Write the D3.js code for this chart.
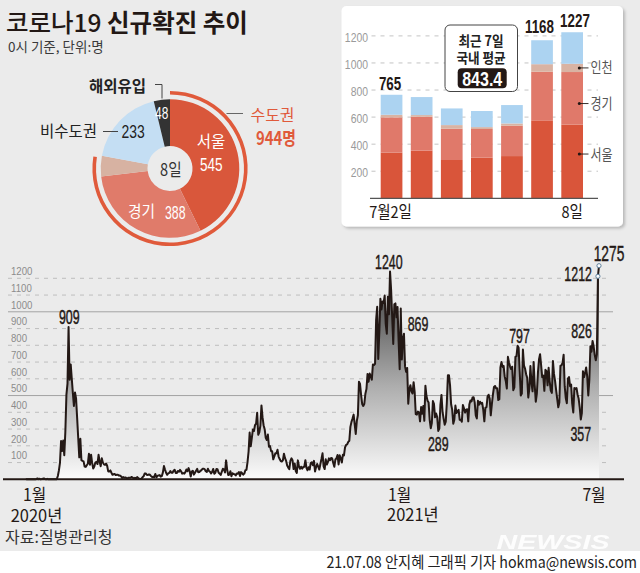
<!DOCTYPE html>
<html><head><meta charset="utf-8">
<script src="https://cdn.jsdelivr.net/npm/d3@7"></script>
<style>html,body{margin:0;padding:0;background:#fff}svg{display:block}</style>
</head><body>
<svg id="c" width="640" height="573"></svg>
<script>
// ---------------- DATA ----------------
// Daily new confirmed cases (total), from 2020-01-20 to 2021-07-08
const seriesStart = "2020-01-20";
const jan2020 = [1,0,0,0,1,0,1,1,0,0,2,5];
const feb2020 = [1,3,0,1,3,5,1,0,3,0,1,0,0,0,0,1,1,1,20,53,100,229,169,231,144,284,505,571,909];
const mar2020 = [595,686,600,516,438,518,483,367,248,131,242,114,110,107,76,74,84,93,152,87,147,98,64,76,100,104,91,146,105,78,125];
const apr2020 = [101,89,86,94,81,47,47,53,39,27,30,32,25,27,27,22,22,18,8,13,9,11,8,6,10,10,10,14,9,4];
const may2020 = [9,6,13,8,3,2,4,12,18,34,35,27,26,29,27,19,13,15,13,32,12,20,23,25,16,19,40,79,58,39,27];
const jun2020 = [35,38,49,39,39,51,57,38,38,50,45,56,48,34,37,34,43,59,49,67,48,17,46,51,28,39,51,62,42,43];
const jul2020 = [51,54,63,63,61,48,44,63,50,45,35,44,62,33,39,61,60,39,34,26,45,63,59,41,113,58,25,28,48,18,36];
const aug2020 = [31,30,23,34,33,43,20,43,36,28,34,54,56,103,166,279,197,246,297,288,324,332,397,266,280,320,441,371,323,299,248];
const sep2020 = [235,267,195,198,168,167,119,136,156,155,176,136,121,109,106,113,153,126,110,82,70,61,110,125,114,61,95,50,38,113];
const oct2020 = [77,63,75,64,73,75,114,69,54,72,58,97,102,84,110,47,73,91,76,58,91,121,155,77,61,119,88,103,125,114,127];
const nov2020 = [124,97,75,118,125,145,89,143,126,100,146,143,191,205,208,223,230,313,343,363,386,330,271,349,382,583,569,503,450,438];
const dec2020 = [451,511,540,629,583,631,615,594,686,682,689,950,1030,718,880,1078,1014,1062,1053,1097,926,869,1090,985,1240,1132,970,808,1045,1050,967];
const jan2021 = [1029,824,657,1020,715,840,869,674,641,665,451,537,562,524,513,580,520,389,386,404,400,346,431,392,437,349,559,497,469,458,355];
const feb2021 = [305,336,467,451,370,393,372,289,303,444,504,403,362,326,344,457,621,621,561,448,416,332,356,440,396,406,415,355];
const mar2021 = [355,344,444,424,398,416,418,346,446,470,465,488,490,459,382,363,469,445,463,452,456,415,346,428,430,494,505,482,382,447,506];
const apr2021 = [551,557,543,543,473,478,668,700,671,677,614,587,542,731,698,673,658,672,532,549,731,735,797,785,644,500,512,775,679,661];
const may2021 = [627,606,488,541,676,574,525,701,564,463,511,635,715,747,681,610,619,528,654,646,561,666,585,530,516,707,629,587,533,480,430];
const jun2021 = [459,677,681,695,744,556,485,454,602,611,556,565,452,399,545,540,545,507,482,429,357,395,645,610,634,668,614,501,595,794];
const jul2021 = [762,826,794,743,711,746,1212,1275];

const mainTicks = [100,200,300,400,500,600,700,800,900,1000,1100,1200];
const mainSolidTicks = [500,1000];
const annotDates = ["2020-02-29","2020-12-25","2021-01-07","2021-02-08","2021-04-23","2021-07-02","2021-06-21","2021-07-07","2021-07-08"];
const xMonthLabels = ["1월","1월","7월"];
const xYearLabels = ["2020년","2021년",""];
const xLabelDates = ["2020-01-01","2021-01-01","2021-07-01"];

// Pie: 8일 breakdown
const pieLabels = ["서울","경기","인천","비수도권","해외유입"];
const pieValues = [545,388,61,233,48];
const capitalLabel = "수도권";
const capitalText = "944명";

// Inset bars (domestic, 7/2 ~ 7/8)
const barDays = ["7월2일","3일","4일","5일","6일","7일","8일"];
const barSeoul    = [337,352,283,300,312,576,545];
const barGyeonggi = [261,251,231,212,224,359,388];
const barIncheon  = [19,12,27,14,17,56,61];
const barOther    = [148,133,123,119,136,177,233];
const barTotalsShown = ["765","","","","","1168","1227"];
const barTicks = [200,400,600,800,1000,1200];
const avgLines = ["최근 7일","국내 평균"];
const avgValue = "843.4";

// ---------------- DRAW ----------------
const svg = d3.select("#c");
const KR = "'Noto Sans CJK KR','Noto Sans',sans-serif";
const NUM = "'Liberation Sans',Arial,sans-serif";
const INK = "#231815";

function label(parent, x, y, str, o = {}) {
  const el = parent.append("text")
    .attr("transform", `translate(${x},${y}) scale(${o.sx || 1},1)`)
    .attr("text-anchor", o.anchor || "start")
    .attr("font-family", o.font || KR)
    .attr("font-size", o.size || 14)
    .attr("font-weight", o.weight || 400)
    .attr("font-style", o.style || "normal")
    .attr("fill", o.fill || INK)
    .text(str);
  if (o.stroke) el.attr("stroke", o.fill || INK).attr("stroke-width", o.stroke);
  return el;
}

const defs = svg.append("defs");
const grad = defs.append("linearGradient").attr("id", "areaGrad")
  .attr("gradientUnits", "userSpaceOnUse").attr("x1", 0).attr("x2", 0);
const sh = defs.append("filter").attr("id", "shadow").attr("x", "-10%").attr("y", "-10%").attr("width", "130%").attr("height", "130%");
sh.append("feDropShadow").attr("dx", 2).attr("dy", 2).attr("stdDeviation", 1.6)
  .attr("flood-color", "#000").attr("flood-opacity", 0.22);

// background
svg.append("rect").attr("width", 640).attr("height", 573).attr("fill", "#fff");
svg.append("rect").attr("width", 640).attr("height", 551).attr("fill", "#ebebeb");

// Title
const t = svg.append("text").attr("x", 6).attr("y", 31.5)
  .attr("font-family", KR).attr("font-size", 24.5).attr("fill", INK);
t.append("tspan").attr("font-weight", 500).text("코로나19 ");
t.append("tspan").attr("font-weight", 700).text("신규확진 추이");
label(svg, 8, 52, "0시 기준, 단위:명", { size: 13.5, fill: "#3a3a3a" });

// ---------- main area chart ----------
const parse = d3.utcParse("%Y-%m-%d");
const allCounts = [].concat(jan2020, feb2020, mar2020, apr2020, may2020, jun2020, jul2020, aug2020,
  sep2020, oct2020, nov2020, dec2020, jan2021, feb2021, mar2021, apr2021, may2021, jun2021, jul2021);
const start = parse(seriesStart);
const data = allCounts.map((v, i) => ({ date: d3.utcDay.offset(start, i), v }));

const x = d3.scaleUtc().domain([data[0].date, data[data.length - 1].date]).range([25.7, 599]);
const y = d3.scaleLinear().domain([0, 1200]).range([479.3, 278.3]);

grad.attr("y1", y(1240)).attr("y2", y(0));
grad.append("stop").attr("offset", 0).attr("stop-color", "#383838");
grad.append("stop").attr("offset", 0.55).attr("stop-color", "#adadad");
grad.append("stop").attr("offset", 1).attr("stop-color", "#fbfbfb");

const gMain = svg.append("g");
mainTicks.forEach(v => {
  const solid = mainSolidTicks.includes(v);
  gMain.append("line").attr("x1", 8).attr("x2", solid ? 613 : 610)
    .attr("y1", y(v)).attr("y2", y(v))
    .attr("stroke", solid ? "#a3a3a3" : "#b9b9b9")
    .attr("stroke-width", solid ? 1 : 0.9)
    .attr("stroke-dasharray", solid ? null : "4,5");
  label(gMain, 11, y(v) - 3.2, String(v), { font: NUM, size: 11.5, sx: 0.84, fill: "#8c8c8c" });
});

const area = d3.area().x(d => x(d.date)).y0(y(0)).y1(d => y(d.v)).curve(d3.curveLinear);
const line = d3.line().x(d => x(d.date)).y(d => y(d.v));
gMain.append("path").datum(data).attr("d", area).attr("fill", "url(#areaGrad)");
gMain.append("path").datum(data).attr("d", line).attr("fill", "none")
  .attr("stroke", INK).attr("stroke-width", 2).attr("stroke-linejoin", "round");

// baseline
gMain.append("line").attr("x1", 3).attr("x2", 624).attr("y1", y(0)).attr("y2", y(0))
  .attr("stroke", INK).attr("stroke-width", 2);

// end circles
data.slice(-2).forEach(d => {
  gMain.append("circle").attr("cx", x(d.date)).attr("cy", y(d.v)).attr("r", 2.1)
    .attr("fill", "#fff").attr("stroke", "#5d7f9c").attr("stroke-width", 1);
});

// annotations
const annotOffsets = [[0.7, -2.8], [-1.2, -2.4], [14, -3], [0, 20.5], [2, -3.3], [-11, -2.8], [0, 21.3], [-6, 4.5], [10, -4.7]];
const byDate = new Map(data.map(d => [+d.date, d]));
annotDates.forEach((ds, i) => {
  const d = byDate.get(+parse(ds));
  const [dx, dy] = annotOffsets[i];
  const last = i === annotDates.length - 1;
  const anchor = i === 7 ? "end" : "middle";
  label(gMain, x(d.date) + dx, y(d.v) + dy, String(d.v),
    { font: NUM, size: last ? 21.5 : 20, weight: 400, stroke: 0.45, sx: last ? 0.64 : 0.62, anchor, fill: INK });
});

// x labels
const xl = xLabelDates.map(parse);
label(gMain, 34.5, 500.8, xMonthLabels[0], { size: 17.5, sx: 0.9, anchor: "middle" });
label(gMain, 36.5, 522, xYearLabels[0], { size: 17.5, sx: 0.94, anchor: "middle" });
label(gMain, x(xl[1]) - 9.5, 500.8, xMonthLabels[1], { size: 17.5, sx: 0.9 });
label(gMain, x(xl[1]) - 10.5, 521, xYearLabels[1], { size: 17.5, sx: 0.94 });
label(gMain, x(xl[2]) + 2.5, 500.8, xMonthLabels[2], { size: 17.5, sx: 0.9, anchor: "middle" });

// ---------- pie ----------
const pieColors = ["#d9573b", "#e07b6a", "#d7b2a2", "#c4def3", "#333333"];
const cx = 170, cy = 168.5;
const gPie = svg.append("g").attr("transform", `translate(${cx},${cy})`);
const pie = d3.pie().sort(null).value(d => d)(pieValues);
const arc = d3.arc().innerRadius(22.5).outerRadius(69.3);
gPie.selectAll("path.s").data(pie).join("path").attr("class", "s")
  .attr("d", arc).attr("fill", (d, i) => pieColors[i]);
const capEnd = pie[2].endAngle;
gPie.append("path").attr("d", d3.arc().innerRadius(74).outerRadius(77.6)({ startAngle: 0, endAngle: capEnd - 0.03 }))
  .attr("fill", "#e05a3b");

// pie labels
label(svg, 211, 147.4, pieLabels[0], { size: 15.5, fill: "#fff", anchor: "middle" });
label(svg, 211.3, 170.8, String(pieValues[0]), { font: NUM, size: 18.6, sx: 0.73, fill: "#fff", anchor: "middle" });
label(svg, 128, 217.4, pieLabels[1], { size: 15.5, fill: "#fff", sx: 0.95 });
label(svg, 165, 218.5, String(pieValues[1]), { font: NUM, size: 18.6, sx: 0.66, fill: "#fff" });
label(svg, 170.8, 175.6, "8일", { size: 17, sx: 0.86, anchor: "middle", fill: "#333" });
label(svg, 161.7, 119, String(pieValues[4]), { font: NUM, size: 17, sx: 0.7, fill: "#fff", anchor: "middle" });
label(svg, 146, 92.4, pieLabels[4], { size: 15.5, weight: 700, anchor: "end", fill: "#222" });
svg.append("path").attr("d", "M155,84.5H162V98.5").attr("fill", "none").attr("stroke", "#444").attr("stroke-width", 1);
label(svg, 97, 137.4, pieLabels[3], { size: 15.5, anchor: "end", fill: "#222" });
svg.append("line").attr("x1", 103).attr("x2", 118).attr("y1", 131.5).attr("y2", 131.5).attr("stroke", "#444");
label(svg, 121.5, 138.3, String(pieValues[3]), { font: NUM, size: 18.6, sx: 0.75, fill: "#222" });
svg.append("line").attr("x1", 226.5).attr("x2", 243).attr("y1", 113.5).attr("y2", 113.5).attr("stroke", "#666");
label(svg, 272.5, 121, capitalLabel, { size: 16, anchor: "middle", fill: "#e05a3b" });
label(svg, 276, 145.2, capitalText, { size: 18.6, weight: 700, sx: 0.8, anchor: "middle", fill: "#e05a3b" });

// ---------- inset bars ----------
const gIn = svg.append("g");
gIn.append("rect").attr("x", 341.5).attr("y", 6).attr("width", 281.5).attr("height", 220.5)
  .attr("rx", 5).attr("fill", "#fff").attr("filter", "url(#shadow)");
const by = d3.scaleLinear().domain([0, 1200]).range([198.3, 35.9]);
const bx = d3.scaleBand().domain(barDays).range([380.7, 583]).paddingInner(0.279).paddingOuter(0);
barTicks.forEach(v => {
  gIn.append("line").attr("x1", 371.5).attr("x2", 598).attr("y1", by(v)).attr("y2", by(v))
    .attr("stroke", "#bdbdbd").attr("stroke-width", 0.9).attr("stroke-dasharray", "4,5");
  label(gIn, 368, by(v) + 6, String(v), { font: NUM, size: 13, sx: 0.8, anchor: "end", fill: "#9a9a9a" });
});
const table = barDays.map((d, i) => ({ day: d, seoul: barSeoul[i], gyeonggi: barGyeonggi[i], incheon: barIncheon[i], other: barOther[i] }));
const keys = ["seoul", "gyeonggi", "incheon", "other"];
const barColors = { seoul: "#d9553a", gyeonggi: "#e0796a", incheon: "#d9b3a3", other: "#acd3f1" };
const stacked = d3.stack().keys(keys)(table);
stacked.forEach(layer => {
  gIn.selectAll(null).data(layer).join("rect")
    .attr("x", d => bx(d.data.day)).attr("width", bx.bandwidth())
    .attr("y", d => by(d[1])).attr("height", d => by(d[0]) - by(d[1]))
    .attr("fill", barColors[layer.key]);
});
gIn.append("line").attr("x1", 370).attr("x2", 598).attr("y1", by(0)).attr("y2", by(0))
  .attr("stroke", "#555").attr("stroke-width", 1.3);
const totDx = [-1.5, 0, 0, 0, 0, -2.6, 2.8];
const totDy = [-4.8, 0, 0, 0, 0, -6.8, -4.8];
table.forEach((d, i) => {
  if (!barTotalsShown[i]) return;
  const tot = d.seoul + d.gyeonggi + d.incheon + d.other;
  label(gIn, bx(d.day) + bx.bandwidth() / 2 + totDx[i], by(tot) + totDy[i], barTotalsShown[i],
    { font: NUM, size: 18.6, weight: 700, sx: 0.72, anchor: "middle" });
});
label(gIn, bx(barDays[0]) + bx.bandwidth() / 2 - 1, 217.5, barDays[0], { size: 16.5, sx: 0.88, anchor: "middle" });
label(gIn, bx(barDays[6]) + bx.bandwidth() / 2, 217.5, barDays[6], { size: 16.5, sx: 0.88, anchor: "middle" });

// legend on right of last bar
const lastBar = table[6];
const legendVals = [lastBar.seoul + lastBar.gyeonggi + lastBar.incheon / 2, lastBar.seoul + 0.4 * lastBar.gyeonggi, lastBar.seoul * 0.6];
const legendNames = [pieLabels[2], pieLabels[1], pieLabels[0]];
legendVals.forEach((v, i) => {
  const yy = by(v);
  gIn.append("circle").attr("cx", 579.3).attr("cy", yy).attr("r", 1.5).attr("fill", INK);
  gIn.append("line").attr("x1", 579.3).attr("x2", 588.5).attr("y1", yy).attr("y2", yy).attr("stroke", INK).attr("stroke-width", 0.9);
  label(gIn, 590.5, yy + 5.5, legendNames[i], { size: 15, sx: 0.8, fill: "#555" });
});

// average callout
gIn.append("rect").attr("x", 445).attr("y", 25).attr("width", 72.5).attr("height", 66.5)
  .attr("rx", 5).attr("fill", "#fff").attr("stroke", "#444").attr("stroke-width", 1);
label(gIn, 481, 45.5, avgLines[0], { size: 14, weight: 700, sx: 0.9, anchor: "middle", fill: "#222" });
label(gIn, 481, 62.8, avgLines[1], { size: 14, weight: 700, sx: 0.9, anchor: "middle", fill: "#222" });
gIn.append("rect").attr("x", 457.7).attr("y", 68.3).attr("width", 49).attr("height", 20).attr("rx", 4).attr("fill", INK);
label(gIn, 482.2, 85.6, avgValue, { font: NUM, size: 20, weight: 700, sx: 0.8, anchor: "middle", fill: "#fff" });

// ---------- footer ----------
label(svg, 5, 543, "자료:질병관리청", { size: 16, fill: "#333", sx: 1.0 });
label(svg, 553, 549, "NEWSIS", { font: NUM, size: 20.5, weight: 700, style: "italic", anchor: "middle", sx: 1.4, fill: "#fff" })
  .attr("opacity", 0.9);
label(svg, 637, 568, "21.07.08 안지혜 그래픽 기자 hokma@newsis.com", { size: 15.5, anchor: "end", sx: 0.92, fill: "#222" });
</script>
</body></html>
